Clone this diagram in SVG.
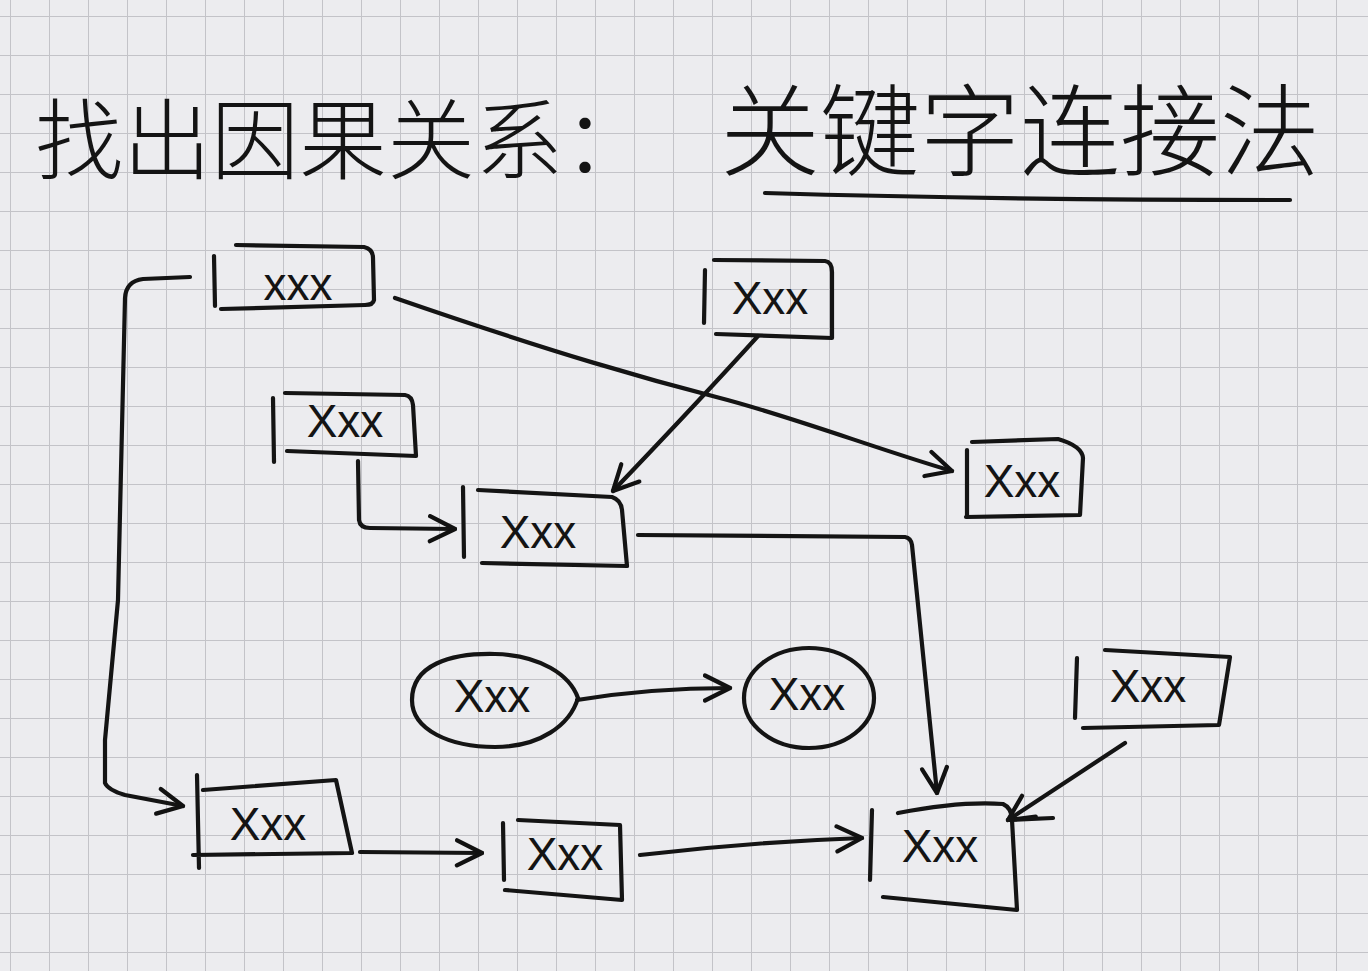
<svg xmlns="http://www.w3.org/2000/svg" width="1368" height="971" viewBox="0 0 1368 971">
<defs>
<pattern id="grid" x="10" y="16" width="39" height="39" patternUnits="userSpaceOnUse">
<path d="M0,0 L39,0 M0,0 L0,39" fill="none" stroke="#c3c3c8" stroke-width="2"/>
</pattern>
<marker id="arr" viewBox="0 0 12 12" refX="11" refY="6" markerWidth="30" markerHeight="30" markerUnits="userSpaceOnUse" orient="auto">
<path d="M1,1 L11,6 L1,11" fill="none" stroke="#111" stroke-width="1.7" stroke-linecap="round" stroke-linejoin="round"/>
</marker>
<style>
.ink{fill:none;stroke:#141414;stroke-width:4.2;stroke-linecap:round;stroke-linejoin:round}
.lbl{font-family:"Liberation Sans","DejaVu Sans",sans-serif;font-size:46px;fill:#141414;text-anchor:middle}
.title{font-family:"Noto Sans CJK SC","Noto Sans",sans-serif;font-weight:300;fill:#141414}
</style>
</defs>
<rect width="1368" height="971" fill="#ececef"/>
<rect width="1368" height="971" fill="url(#grid)"/>

<g id="title">
<text class="title" x="35" y="172" font-size="88">找出因果关系：</text>
<text class="title" x="720" y="168" font-size="100">关键字连接法</text>
<path class="ink" d="M765,193 Q1000,200 1290,200"/>
</g>

<g id="connectors">
<path class="ink" marker-end="url(#arr)" d="M190,277 L143,279 Q126,281 125,298 L118,600 L105,740 L105,783 Q108,790 125,795 L183,806"/>
<path class="ink" marker-end="url(#arr)" d="M395,298 C560,355 650,380 720,398 S880,450 952,471"/>
<path class="ink" marker-end="url(#arr)" d="M758,336 Q700,400 613,491"/>
<path class="ink" marker-end="url(#arr)" d="M358,461 L359,520 Q360,528 370,528 L455,529"/>
<path class="ink" marker-end="url(#arr)" d="M638,535 L905,537 Q911,538 912,545 L937,793"/>
<path class="ink" marker-end="url(#arr)" d="M577,700 Q650,688 730,688"/>
<path class="ink" marker-end="url(#arr)" d="M1125,743 L1008,820"/>
<path class="ink" d="M1008,820 L1053,818"/>
<path class="ink" marker-end="url(#arr)" d="M360,852 L482,853"/>
<path class="ink" marker-end="url(#arr)" d="M640,855 Q750,842 862,838"/>
</g>

<g id="nodeA">
<path class="ink" d="M214,256 L215,306 M236,245 L364,247 Q373,249 373,258 L374,300 Q373,305 365,305 L221,309"/>
<text class="lbl" x="298" y="300">xxx</text>
</g>
<g id="nodeB">
<path class="ink" d="M705,270 L704,323 M714,260 L825,261 Q832,262 832,272 L832,338 L716,334"/>
<text class="lbl" x="770" y="314">Xxx</text>
</g>
<g id="nodeC">
<path class="ink" d="M273,398 L274,462 M285,393 L405,395 Q412,396 413,405 L416,456 L287,451"/>
<text class="lbl" x="345" y="437">Xxx</text>
</g>
<g id="nodeD">
<path class="ink" d="M463,487 L464,557 M478,490 L612,497 Q621,500 622,510 L627,566 L482,563"/>
<text class="lbl" x="538" y="548">Xxx</text>
</g>
<g id="nodeE">
<path class="ink" d="M967,450 L967,517 M972,442 L1058,439 Q1082,446 1083,458 L1080,515 L966,517"/>
<text class="lbl" x="1022" y="497">Xxx</text>
</g>
<g id="nodeF">
<path class="ink" d="M412,700 C412,665 450,653 495,654 C540,655 570,675 578,698 C570,725 540,747 495,747 C450,747 412,730 412,700 Z"/>
<text class="lbl" x="492" y="712">Xxx</text>
</g>
<g id="nodeG">
<ellipse class="ink" cx="809" cy="698" rx="65" ry="50"/>
<text class="lbl" x="807" y="710">Xxx</text>
</g>
<g id="nodeH">
<path class="ink" d="M1077,658 L1075,718 M1105,650 L1230,657 L1219,725 L1083,728"/>
<text class="lbl" x="1148" y="702">Xxx</text>
</g>
<g id="nodeI">
<path class="ink" d="M197,775 L199,868 M203,790 L336,780 L352,853 L193,855"/>
<text class="lbl" x="268" y="840">Xxx</text>
</g>
<g id="nodeJ">
<path class="ink" d="M503,823 L504,880 M518,820 L620,825 L622,900 L505,890"/>
<text class="lbl" x="565" y="870">Xxx</text>
</g>
<g id="nodeK">
<path class="ink" d="M872,810 L870,880 M898,813 Q960,801 1003,804 Q1012,808 1012,820 L1017,910 L883,897"/>
<text class="lbl" x="940" y="862">Xxx</text>
</g>
</svg>
